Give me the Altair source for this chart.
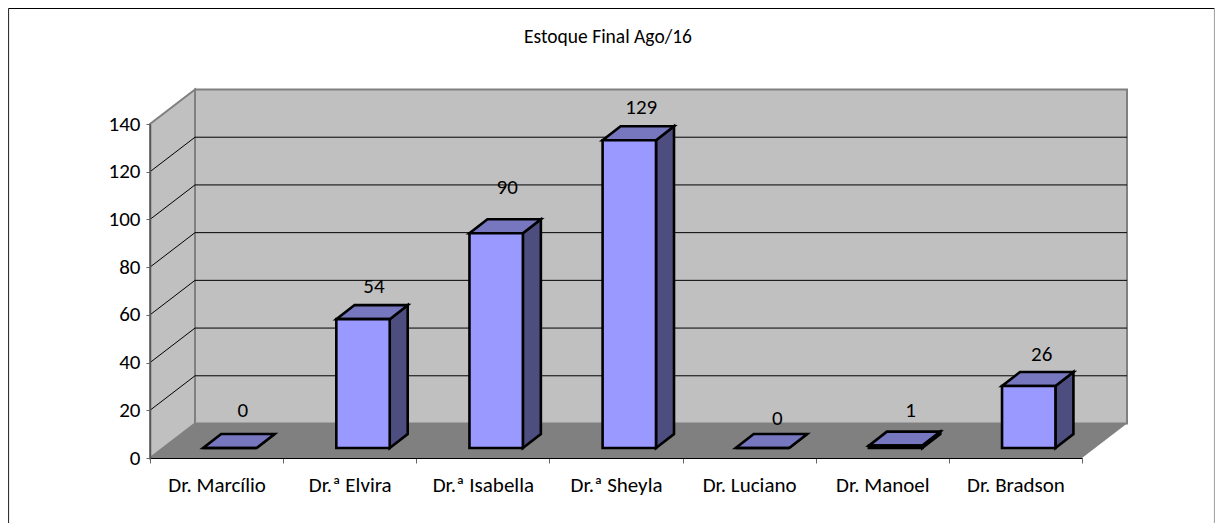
import altair as alt
import pandas as pd

categories = ["Dr. Marcílio", "Dr.ª Elvira", "Dr.ª Isabella", "Dr.ª Sheyla", "Dr. Luciano", "Dr. Manoel", "Dr. Bradson"]
values = [0, 54, 90, 129, 0, 1, 26]
y_ticks = [0, 20, 40, 60, 80, 100, 120, 140]
grid_values = [20, 40, 60, 80, 100, 120]
chart_title = "Estoque Final Ago/16"

# layout
W, H = 932, 334
PAD_L, PAD_T = 142, 116
TOTAL_W, TOTAL_H = 1207, 515
PX_U = W / 7
PX_V = H / 140
FONT = "Carlito, Calibri, Lato"
FS = 21
WALL_DX = 45 / PX_U
WALL_DY = 34.5 / PX_V
BAR_X = 13.3 / PX_U
BAR_Y = 10 / PX_V
BAR_HALF = 26.7 / PX_U
BAR_DX = 18 / PX_U
BAR_DY = 14 / PX_V
NCAT = len(categories)
# label nudges in px: (x, y from bar's back top)
nudge_x = [4, 2, 2, 3, 6, 6, 4]
nudge_y = [23, 18, 31, 18, 15, 21, 17]

xs = alt.Scale(domain=[0, NCAT], range=[0, W], nice=False, zero=False)
ys = alt.Scale(domain=[0, 140], range=[H, 0], nice=False, zero=False)
y_axis = alt.Axis(values=y_ticks, title=None, grid=False, labelFont=FONT, labelFontSize=FS,
                  labelColor="black", tickColor="#666666", tickSize=4, labelPadding=6,
                  domainColor="#555555", domainWidth=1.5, zindex=1)


def X(f):
    return alt.X(f"{f}:Q", scale=xs, axis=None)


def Y(f):
    return alt.Y(f"{f}:Q", scale=ys, axis=y_axis, stack=None)


# walls
back = pd.DataFrame({"a": [WALL_DX], "b": [NCAT + WALL_DX], "c": [WALL_DY], "d": [140 + WALL_DY]})
back_l = alt.Chart(back).mark_rect(fill="#C0C0C0", stroke="#808080", strokeWidth=2).encode(
    x=X("a"), x2="b", y=Y("c"), y2="d")

left = pd.DataFrame({"u": [0, WALL_DX], "v": [0, WALL_DY], "v2": [140, 140 + WALL_DY]})
left_l = alt.Chart(left).mark_area(fill="#C0C0C0", stroke="#808080", strokeWidth=2).encode(
    x=X("u"), y=Y("v"), y2="v2")

floor = pd.DataFrame({"v": [0, WALL_DY], "u": [0, WALL_DX], "u2": [NCAT, NCAT + WALL_DX]})
floor_l = alt.Chart(floor).mark_area(orient="horizontal", fill="#808080").encode(
    y=Y("v"), x=X("u"), x2="u2")

# gridlines
grid_rows = []
for g in grid_values:
    grid_rows += [
        {"g": g, "o": 0, "u": 0, "v": g},
        {"g": g, "o": 1, "u": WALL_DX, "v": g + WALL_DY},
        {"g": g, "o": 2, "u": NCAT + WALL_DX, "v": g + WALL_DY},
    ]
grid_l = alt.Chart(pd.DataFrame(grid_rows)).mark_line(color="#000000", strokeWidth=1).encode(
    x=X("u"), y=Y("v"), detail="g:N", order="o:Q")

# bars
fronts, sides, tops, labels = [], [], [], []
for i, (c, val) in enumerate(zip(categories, values)):
    x0 = i + 0.5 + BAR_X - BAR_HALF
    x1 = i + 0.5 + BAR_X + BAR_HALF
    b = BAR_Y
    t = BAR_Y + val
    fronts.append({"a": x0, "b": x1, "c": b, "d": t})
    sides += [
        {"i": i, "u": x1, "v": b, "v2": t},
        {"i": i, "u": x1 + BAR_DX, "v": b + BAR_DY, "v2": t + BAR_DY},
    ]
    tops += [
        {"i": i, "v": t, "u": x0, "u2": x1},
        {"i": i, "v": t + BAR_DY, "u": x0 + BAR_DX, "u2": x1 + BAR_DX},
    ]
    labels.append({
        "u": i + 0.5 + BAR_X + BAR_DX / 2 + nudge_x[i] / PX_U,
        "v": t + BAR_DY + nudge_y[i] / PX_V,
        "t": str(val),
    })

EDGE = dict(stroke="black", strokeWidth=2.6, strokeJoin="miter")
front_l = alt.Chart(pd.DataFrame(fronts)).mark_rect(fill="#9999FF", **EDGE).encode(
    x=X("a"), x2="b", y=Y("c"), y2="d")
side_l = alt.Chart(pd.DataFrame(sides)).mark_area(fill="#4D4D80", **EDGE).encode(
    x=X("u"), y=Y("v"), y2="v2", detail="i:N")
top_l = alt.Chart(pd.DataFrame(tops)).mark_area(orient="horizontal", fill="#7777BF", **EDGE).encode(
    y=Y("v"), x=X("u"), x2="u2", detail="i:N")
label_l = alt.Chart(pd.DataFrame(labels)).mark_text(font=FONT, fontSize=FS, color="black").encode(
    x=X("u"), y=Y("v"), text="t:N")

# category axis (band scale with ticks at the band edges)
axis_df = pd.DataFrame({"c": categories, "v": values})
axis_l = alt.Chart(axis_df).mark_point(opacity=0).encode(
    x=alt.X("c:N", sort=categories, scale=alt.Scale(paddingInner=0, paddingOuter=0, range=[0, W]),
            axis=alt.Axis(title=None, tickBand="extent", labelAngle=0, labelFont=FONT, labelFontSize=FS,
                          labelColor="black", tickColor="#666666", tickSize=5, labelPadding=11,
                          domainColor="black", domainWidth=1, zindex=1, labelFlush=False)),
    y=Y("v"),
)

# outer frame


def fu(px):
    return (px - 8 - PAD_L) / PX_U


def fv(px):
    return (8 + PAD_T + H - px) / PX_V


RIGHT = 8 + TOTAL_W - 0.5
frame = pd.DataFrame({
    "a": [fu(8.5), fu(8.5), fu(RIGHT)],
    "b": [fu(8.5), fu(RIGHT), fu(RIGHT)],
    "c": [fv(523), fv(8.5), fv(523)],
    "d": [fv(8.5), fv(8.5), fv(8.5)],
    "col": ["#333333", "#000000", "#A6A6A6"],
})
frame_l = alt.Chart(frame).mark_rule(strokeWidth=1.2).encode(
    x=X("a"), x2="b", y=Y("c"), y2="d", color=alt.Color("col:N", scale=None))

chart = alt.layer(
    frame_l, back_l, left_l, floor_l, grid_l, side_l, top_l, front_l, label_l, axis_l
).resolve_scale(x="independent").properties(
    width=W,
    height=H,
    padding={"left": PAD_L, "top": PAD_T, "right": TOTAL_W - PAD_L - W, "bottom": TOTAL_H - PAD_T - H},
    autosize=alt.AutoSizeParams(type="none"),
    background="white",
    title=alt.TitleParams(chart_title, font=FONT, fontSize=19.5, fontWeight="normal", color="black",
                          anchor="middle", offset=0, dy=40, dx=-8),
).configure_view(stroke=None)

chart.save("out.html", embed_options={"renderer": "svg", "actions": False})
